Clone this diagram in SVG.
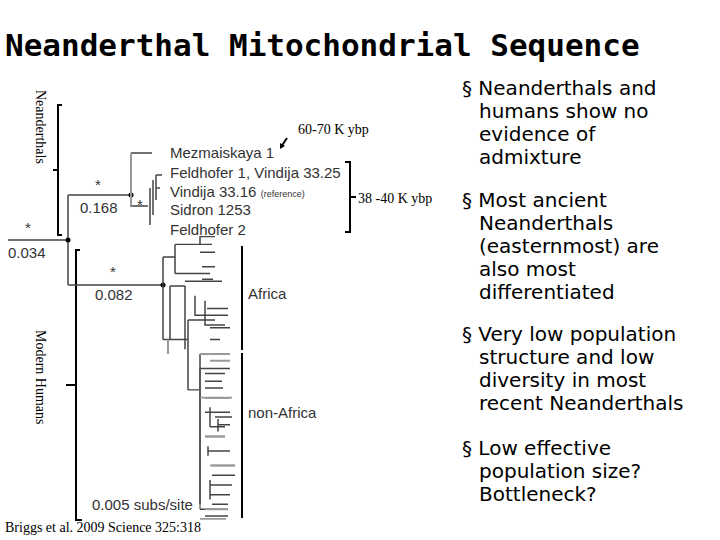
<svg xmlns="http://www.w3.org/2000/svg" width="720" height="540" viewBox="0 0 720 540">
<style>
.t{font-family:"DejaVu Sans",sans-serif;font-size:20px;fill:#000}
.s{font-family:"Liberation Serif",serif;font-size:14px;fill:#000}
.g{font-family:"Liberation Sans",sans-serif;font-size:15px;fill:#333}
.k{stroke:#000;stroke-width:2;fill:none}
.d{stroke:#444;stroke-width:1.5;fill:none}
.l{stroke:#999;stroke-width:2;fill:none}
</style>
<rect width="720" height="540" fill="#fff"/>
<text x="5" y="56" font-family="DejaVu Sans Mono,monospace" font-weight="bold" font-size="31">Neanderthal Mitochondrial Sequence</text>
<g id="neander-bracket"><path class="k" d="M62 105H58V235H62M58 170H53"/><text class="s" transform="translate(36,90) rotate(90)">Neanderthals</text></g>
<g id="modern-bracket"><path class="k" d="M80 250H76V520H82M76 385H66"/><text class="s" transform="translate(36,330) rotate(90)">Modern Humans</text></g>
<g id="connectors">
<path class="d" d="M8 240H68M68 195V285M68 195H131M68 285H163"/>
<circle cx="68" cy="240" r="2.5"/><circle cx="131" cy="195" r="2.5"/><circle cx="163" cy="285" r="2.5"/>
<path class="d" d="M131 153V206H148M131 153H152"/>
<path class="l" d="M131 153V206"/>
<path class="d" d="M150 188V225M153 180V215M156 175V200M156 175H162M156 188H160"/>
<g transform="translate(0,257) scale(1,0.97) translate(0,-245)">
<path class="d" d="M163 245V330M163 245H175M175 232V262M175 232H212M175 262H210M200 232V224H215M200 240H215M202 255H215M202 268H213"/>
<path class="d" d="M163 330H170M170 275V330M170 275H185M185 275V340M185 270H222M195 285V305H225M205 290V315H225M207 298H228M207 305H228M210 318H230M210 330H220M170 330H188"/>
<path class="d" d="M188 310V382M188 310H215M188 382H200"/>
<path class="l" d="M168 330V345M210 352H230M200 360V505"/>
<path class="d" d="M200 345V500M200 345H225M200 360H230M205 365H225M205 373H222M205 380H223M205 390H230M205 405H230M210 400V420M210 420H225M215 410H232M218 412V425M218 418H230M205 430H225M208 440V450M208 445H230M212 460H235M212 470H235M210 475V495M210 480H232M210 490H230M212 500H228M200 505H228M205 512H228"/>
<path class="l" d="M200 345H230M200 390H232M205 430H225M210 460H235M205 505H228M200 515H226"/>
</g>
<path class="k" d="M242 246V350M242 353V518M345 162H350V232H345M350 197H356"/>
<path stroke="#000" stroke-width="2" d="M287 138L281 147"/><path d="M280 149l0-6 5 3z"/>
</g>
<g id="tree-labels">
<text class="g" x="170" y="158">Mezmaiskaya 1</text>
<text class="g" x="170" y="178">Feldhofer 1, Vindija 33.25</text>
<text class="g" x="170" y="197">Vindija 33.16 <tspan font-size="9">(reference)</tspan></text>
<text class="g" x="170" y="215">Sidron 1253</text>
<text class="g" x="170" y="235">Feldhofer 2</text>
<text class="g" x="248" y="299">Africa</text>
<text class="g" x="248" y="418">non-Africa</text>
<text class="g" x="92" y="510" font-size="11">0.005 subs/site</text>
<text class="g" x="80" y="213">0.168</text>
<text class="g" x="8" y="258">0.034</text>
<text class="g" x="95" y="300">0.082</text>
<text class="g" x="95" y="190">*</text><text class="g" x="137" y="210">*</text><text class="g" x="25" y="233">*</text><text class="g" x="110" y="277">*</text>
<text class="s" x="298" y="134" font-size="13">60-70 K ybp</text>
<text class="s" x="358" y="203" font-size="13">38 -40 K ybp</text>
<text class="s" x="5" y="532" font-size="13">Briggs et al. 2009 Science 325:318</text>
</g>
<g id="bullets" class="t">
<text x="462" y="95">§ Neanderthals and</text>
<text x="479" y="118">humans show no</text>
<text x="479" y="141">evidence of</text>
<text x="479" y="164">admixture</text>
<text x="462" y="207">§ Most ancient</text>
<text x="479" y="230">Neanderthals</text>
<text x="479" y="253">(easternmost) are</text>
<text x="479" y="276">also most</text>
<text x="479" y="299">differentiated</text>
<text x="462" y="341">§ Very low population</text>
<text x="479" y="364">structure and low</text>
<text x="479" y="387">diversity in most</text>
<text x="479" y="410">recent Neanderthals</text>
<text x="462" y="455">§ Low effective</text>
<text x="479" y="478">population size?</text>
<text x="479" y="501">Bottleneck?</text>
</g>
</svg>
